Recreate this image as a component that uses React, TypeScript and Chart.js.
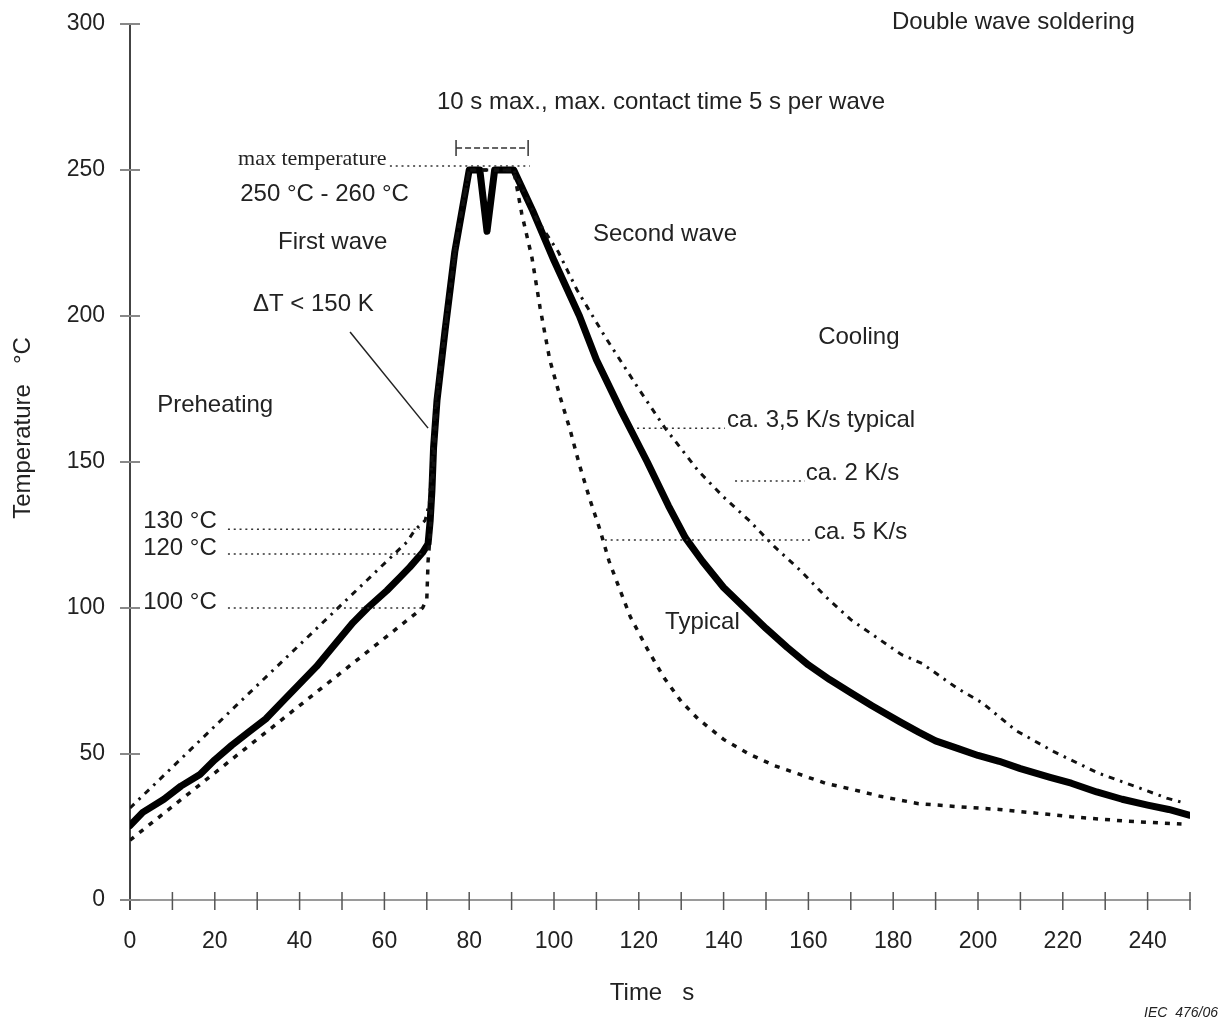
import React, { useEffect, useRef } from "react";
import { Chart, registerables } from "chart.js";

Chart.register(...registerables);

// ---------- data ----------
// Typical profile (solid thick line)
const typicalTime = [0, 3, 8, 12, 16.5, 20, 24, 28, 32, 36, 40, 44, 48, 52.6, 56, 60.6, 64, 66, 69, 70.3, 70.8, 71.2, 71.6, 72.4, 74.3, 76.6, 80, 82.5, 84.2, 86, 90.5, 95, 100, 106, 110, 116, 122, 127, 131, 135, 140, 145, 150, 155, 160, 165, 170, 175, 181.6, 186, 190, 195, 200, 205, 210, 217, 222, 228, 234, 240, 245, 250];
const typicalTemp = [25.5, 30, 34.5, 39, 43, 48, 53, 57.5, 62, 68, 74, 80, 87, 95, 100, 106, 111, 114, 119, 122, 130, 140, 155, 171, 195, 222, 250, 250, 229, 250, 250, 236, 219, 200, 185, 167, 150, 135, 124, 116, 107, 100, 93, 86.5, 80.5, 75.5, 71, 66.5, 61, 57.5, 54.5, 52, 49.5, 47.5, 45, 42, 40, 37, 34.5, 32.5, 31, 29];

// Upper limit (dash-dot line, ca. 2 K/s cooling)
const upperTime = [0, 25.2, 65.3, 67.2, 69.6, 70.6, 71.2, 72, 74.3, 77, 80, 90.5, 96, 101, 105.4, 112, 120, 126, 134, 140, 146, 152, 158, 164, 170, 176, 182, 186.8, 195, 201, 209, 218, 228.3, 238, 244.5, 248];
const upperTemp = [31.5, 66.8, 122.6, 126.7, 130, 136, 150, 170, 196, 226, 250, 250, 233, 222, 209, 193, 175, 162, 147, 138, 130, 121, 113, 104, 96, 90, 84, 81, 72.6, 67.5, 58, 50.7, 43.5, 38.4, 34.9, 33.5];

// Lower limit (square-dot line, ca. 5 K/s cooling)
const lowerTime = [0, 69, 70, 70.3, 70.8, 71.4, 72.4, 74.3, 77, 80, 90.5, 92.4, 94.8, 96.7, 99, 101.5, 103.8, 106, 108.5, 110.8, 113, 115.6, 118, 122, 126, 130, 134, 140, 146, 152, 158, 164, 170, 177, 186, 195, 205, 212, 222, 235, 248];
const lowerTemp = [20.5, 100, 103, 116, 125, 145, 171, 195, 226, 250, 250, 235, 220, 203, 185, 172, 161, 149, 137, 127, 116, 106, 97, 86, 76, 68, 62, 55, 50, 46, 43, 40, 38, 35.5, 33, 32, 31, 30, 28.5, 27, 26];

const xTickLabels = [0, 20, 40, 60, 80, 100, 120, 140, 160, 180, 200, 220, 240];
const yTickLabels = [0, 50, 100, 150, 200, 250, 300];

// ---------- annotations (anchored in data coordinates) ----------
const SANS = "'Liberation Sans', Arial, Helvetica, sans-serif";
const SERIF = "'Liberation Serif', 'Times New Roman', serif";

const textNotes = [
  { text: "Double wave soldering", t: 179.7, v: 300.7 },
  { text: "10 s max., max. contact time 5 s per wave", t: 72.4, v: 273 },
  { text: "250 °C - 260 °C", t: 26, v: 241.8 },
  { text: "First wave", t: 34.9, v: 225.3 },
  { text: "Second wave", t: 109.2, v: 228.1 },
  { text: "ΔT < 150 K", t: 29, v: 204.1 },
  { text: "Cooling", t: 162.3, v: 192.8 },
  { text: "Preheating", t: 6.4, v: 169.5 },
  { text: "ca. 3,5 K/s typical", t: 140.8, v: 164.4 },
  { text: "ca. 2 K/s", t: 159.4, v: 146.2 },
  { text: "ca. 5 K/s", t: 161.3, v: 126 },
  { text: "130 °C", t: 3.1, v: 129.5 },
  { text: "120 °C", t: 3.1, v: 120.5 },
  { text: "100 °C", t: 3.1, v: 102 },
  { text: "Typical", t: 126.2, v: 95.2 },
];
const serifNote = { text: "max temperature", t: 25.5, v: 253.8 };

const leaders = [
  { t1: 61.3, t2: 94.3, v: 251.4 },
  { t1: 23.1, t2: 68.4, v: 127 },
  { t1: 23.1, t2: 69.6, v: 118.5 },
  { t1: 23.1, t2: 69.6, v: 100 },
  { t1: 119.6, t2: 140.3, v: 161.6 },
  { t1: 142.7, t2: 159.2, v: 143.5 },
  { t1: 112, t2: 160.8, v: 123.3 },
];
const bracket = { t1: 76.9, t2: 93.9, v: 257.5 };
const deltaLine = { t1: 51.9, v1: 194.5, t2: 70.3, v2: 161.6 };

const toXY = (ts: number[], vs: number[]) => ts.map((t, i) => ({ x: t, y: vs[i] }));

const decorPlugin = {
  id: "decor",
  beforeDatasetsDraw(chart: any) {
    const { ctx } = chart;
    const x = chart.scales.x;
    const y = chart.scales.y;
    const px = (t: number) => x.getPixelForValue(t);
    const py = (v: number) => y.getPixelForValue(v);
    ctx.save();
    // x axis line
    ctx.strokeStyle = "#9a9a9a";
    ctx.lineWidth = 2;
    ctx.beginPath();
    ctx.moveTo(px(0) - 9, py(0));
    ctx.lineTo(px(250) + 1, py(0));
    ctx.stroke();
    // y axis line
    ctx.strokeStyle = "#444";
    ctx.lineWidth = 2;
    ctx.beginPath();
    ctx.moveTo(px(0), py(300));
    ctx.lineTo(px(0), py(0) + 10);
    ctx.stroke();
    // y ticks
    ctx.strokeStyle = "#888";
    ctx.lineWidth = 2;
    for (const v of yTickLabels) {
      ctx.beginPath();
      ctx.moveTo(px(0) - 10, py(v));
      ctx.lineTo(px(0) + 10, py(v));
      ctx.stroke();
    }
    // x ticks every 10
    ctx.strokeStyle = "#555";
    ctx.lineWidth = 1.5;
    for (let t = 10; t <= 250; t += 10) {
      ctx.beginPath();
      ctx.moveTo(px(t), py(0) - 8);
      ctx.lineTo(px(t), py(0) + 10);
      ctx.stroke();
    }
    ctx.restore();
  },
  afterDatasetsDraw(chart: any) {
    const { ctx } = chart;
    const x = chart.scales.x;
    const y = chart.scales.y;
    const px = (t: number) => x.getPixelForValue(t);
    const py = (v: number) => y.getPixelForValue(v);
    ctx.save();
    // dotted leaders
    ctx.strokeStyle = "#333";
    ctx.lineWidth = 1.5;
    ctx.setLineDash([2, 3.8]);
    for (const l of leaders) {
      ctx.beginPath();
      ctx.moveTo(px(l.t1), py(l.v));
      ctx.lineTo(px(l.t2), py(l.v));
      ctx.stroke();
    }
    // bracket |------|
    ctx.setLineDash([6, 3]);
    ctx.beginPath();
    ctx.moveTo(px(bracket.t1), py(bracket.v));
    ctx.lineTo(px(bracket.t2), py(bracket.v));
    ctx.stroke();
    ctx.setLineDash([]);
    for (const t of [bracket.t1, bracket.t2]) {
      ctx.beginPath();
      ctx.moveTo(px(t), py(bracket.v) - 8);
      ctx.lineTo(px(t), py(bracket.v) + 8);
      ctx.stroke();
    }
    // delta T pointer
    ctx.lineWidth = 1.5;
    ctx.strokeStyle = "#222";
    ctx.beginPath();
    ctx.moveTo(px(deltaLine.t1), py(deltaLine.v1));
    ctx.lineTo(px(deltaLine.t2), py(deltaLine.v2));
    ctx.stroke();

    // texts
    ctx.fillStyle = "#222";
    ctx.textBaseline = "middle";
    ctx.textAlign = "left";
    ctx.font = `24px ${SANS}`;
    for (const n of textNotes) {
      ctx.fillText(n.text, px(n.t), py(n.v));
    }
    ctx.font = `22px ${SERIF}`;
    ctx.fillText(serifNote.text, px(serifNote.t), py(serifNote.v));

    // axis titles
    ctx.font = `24px ${SANS}`;
    ctx.textAlign = "center";
    ctx.fillText("Time   s", 652, 993);
    ctx.save();
    ctx.translate(23, 428);
    ctx.rotate(-Math.PI / 2);
    ctx.fillText("Temperature   °C", 0, 0);
    ctx.restore();
    ctx.textAlign = "right";
    ctx.font = `italic 14px ${SANS}`;
    ctx.fillText("IEC  476/06", 1218, 1013);
    ctx.restore();
  },
};

export default function App() {
  const canvasRef = useRef<HTMLCanvasElement | null>(null);

  useEffect(() => {
    if (!canvasRef.current) return;
    const chart = new Chart(canvasRef.current, {
      type: "line",
      data: {
        datasets: [
          {
            label: "Upper limit",
            data: toXY(upperTime, upperTemp),
            borderColor: "#111",
            borderWidth: 3,
            borderDash: [6, 6, 2.5, 6],
            pointRadius: 0,
            tension: 0,
            fill: false,
          },
          {
            label: "Lower limit",
            data: toXY(lowerTime, lowerTemp),
            borderColor: "#111",
            borderWidth: 3.5,
            borderDash: [5, 7],
            pointRadius: 0,
            tension: 0,
            fill: false,
          },
          {
            label: "Typical",
            data: toXY(typicalTime, typicalTemp),
            borderColor: "#000",
            borderWidth: 7,
            borderJoinStyle: "round",
            borderCapStyle: "round",
            pointRadius: 0,
            tension: 0,
            fill: false,
          },
        ],
      },
      options: {
        responsive: false,
        animation: false,
        layout: { padding: { left: 0, right: 34, top: 24, bottom: 0 } },
        plugins: {
          legend: { display: false },
          tooltip: { enabled: false },
        },
        scales: {
          x: {
            type: "linear",
            min: 0,
            max: 250,
            grid: { display: false, drawTicks: false },
            border: { display: false },
            ticks: {
              stepSize: 10,
              autoSkip: false,
              maxRotation: 0,
              padding: 28,
              color: "#222",
              font: { family: SANS, size: 23 },
              callback: (v: any) => (xTickLabels.includes(Number(v)) ? String(v) : ""),
            },
            afterFit: (s: any) => {
              s.height = 126;
              s.paddingLeft = 0;
              s.paddingRight = 0;
            },
          },
          y: {
            type: "linear",
            min: 0,
            max: 300,
            grid: { display: false, drawTicks: false },
            border: { display: false },
            ticks: {
              stepSize: 50,
              padding: 25,
              color: "#222",
              font: { family: SANS, size: 23 },
              callback: (v: any) => (yTickLabels.includes(Number(v)) ? String(v) : ""),
            },
            afterFit: (s: any) => {
              s.width = 130;
              s.paddingTop = 0;
              s.paddingBottom = 0;
            },
          },
        },
      },
      plugins: [decorPlugin],
    } as any);
    return () => chart.destroy();
  }, []);

  return (
    <div style={{ position: "absolute", left: 0, top: 0 }}>
      <canvas ref={canvasRef} width={1224} height={1026} style={{ display: "block" }} />
    </div>
  );
}
